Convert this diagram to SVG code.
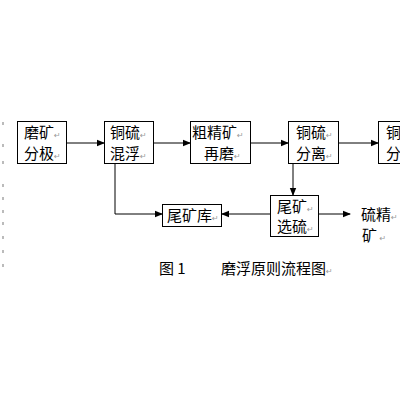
<svg xmlns="http://www.w3.org/2000/svg" width="400" height="400" viewBox="0 0 400 400">
<defs>
<marker id="ah" markerWidth="8" markerHeight="8" refX="7" refY="4" orient="auto" markerUnits="userSpaceOnUse">
<path d="M0,0.8 L8,4 L0,7.2 Z" fill="#000"/>
</marker>
</defs>
<style>
.box{fill:#fff;stroke:#000;stroke-width:1}
.t{font-family:"Noto Sans CJK SC","Noto Sans",sans-serif;font-size:15px;fill:#000}
.pm{font-family:"DejaVu Sans",sans-serif;font-size:8px;fill:#999}
.c{stroke:#000;stroke-width:1;fill:none}
.dot{fill:#bbb}
</style>
<rect width="400" height="400" fill="#fff"/>
<g id="margin">
<rect class="dot" x="2" y="122" width="2" height="3"/>
<rect class="dot" x="2" y="144" width="2" height="3"/>
<rect class="dot" x="2" y="161" width="2" height="3"/>
<rect class="dot" x="2" y="184" width="2" height="3"/>
<rect class="dot" x="2" y="197" width="2" height="3"/>
<rect class="dot" x="2" y="210" width="2" height="3"/>
<rect class="dot" x="2" y="222" width="2" height="3"/>
<rect class="dot" x="2" y="236" width="2" height="3"/>
<rect class="dot" x="2" y="250" width="2" height="3"/>
<rect class="dot" x="2" y="264" width="2" height="3"/>
</g>
<g id="connectors">
<line class="c" x1="67" y1="143" x2="104" y2="143" marker-end="url(#ah)"/>
<line class="c" x1="154" y1="143" x2="190" y2="143" marker-end="url(#ah)"/>
<line class="c" x1="251" y1="143" x2="288" y2="143" marker-end="url(#ah)"/>
<line class="c" x1="339" y1="143" x2="378" y2="143" marker-end="url(#ah)"/>
<polyline class="c" points="115,164 115,214 162,214" marker-end="url(#ah)"/>
<line class="c" x1="293" y1="163" x2="293" y2="195" marker-end="url(#ah)"/>
<line class="c" x1="271" y1="214" x2="222" y2="214" marker-end="url(#ah)"/>
<line class="c" x1="318" y1="214" x2="350" y2="214" marker-end="url(#ah)"/>
</g>
<g id="n1">
<rect class="box" x="17.5" y="121.5" width="49" height="42"/>
<text class="t" x="24" y="138">磨矿<tspan class="pm">↵</tspan></text>
<text class="t" x="24" y="159">分极<tspan class="pm">↵</tspan></text>
</g>
<g id="n2">
<rect class="box" x="104.5" y="121.5" width="49" height="42"/>
<text class="t" x="110" y="138">铜硫<tspan class="pm">↵</tspan></text>
<text class="t" x="110" y="159">混浮<tspan class="pm">↵</tspan></text>
</g>
<g id="n3">
<rect class="box" x="190.5" y="121.5" width="60" height="42"/>
<text class="t" x="192" y="138">粗精矿<tspan class="pm">↵</tspan></text>
<text class="t" x="204" y="159">再磨<tspan class="pm">↵</tspan></text>
</g>
<g id="n4">
<rect class="box" x="288.5" y="121.5" width="50" height="42"/>
<text class="t" x="296" y="138">铜硫<tspan class="pm">↵</tspan></text>
<text class="t" x="296" y="159">分离<tspan class="pm">↵</tspan></text>
</g>
<g id="n5">
<rect class="box" x="378.5" y="121.5" width="50" height="42"/>
<text class="t" x="386" y="138">铜硫</text>
<text class="t" x="386" y="159">分离</text>
</g>
<g id="n6">
<rect class="box" x="162.5" y="204.5" width="59" height="22"/>
<text class="t" x="167" y="221">尾矿库<tspan class="pm">↵</tspan></text>
</g>
<g id="n7">
<rect class="box" x="270.5" y="195.5" width="48" height="41"/>
<text class="t" x="277" y="212">尾矿<tspan class="pm">↵</tspan></text>
<text class="t" x="277" y="232">选硫<tspan class="pm">↵</tspan></text>
</g>
<g id="n8">
<text class="t" x="361" y="220">硫精<tspan class="pm">↵</tspan></text>
<text class="t" x="362" y="241">矿<tspan class="pm"> ↵</tspan></text>
</g>
<g id="caption">
<text class="t" x="159" y="274">图 1</text>
<text class="t" x="221" y="274">磨浮原则流程图<tspan class="pm">↵</tspan></text>
</g>
</svg>
